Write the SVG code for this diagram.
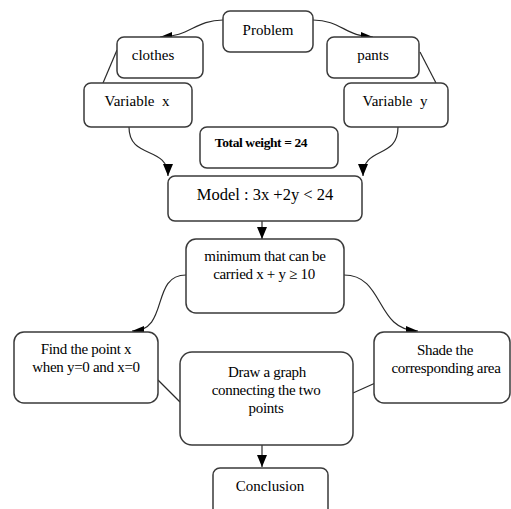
<svg xmlns="http://www.w3.org/2000/svg" width="511" height="509" viewBox="0 0 511 509" font-family="'Liberation Serif', 'DejaVu Serif', serif">
<defs>
<style>
.box{fill:#fff;stroke:#3a3a3a;stroke-width:1.5}
text{font-family:'Liberation Serif','DejaVu Serif',serif;font-size:15px;fill:#000;text-anchor:middle}
.s{font-size:15px;letter-spacing:-0.3px}
.c{fill:none;stroke:#2a2a2a;stroke-width:1.2}
</style>
<marker id="ah" viewBox="0 0 12 10" refX="12" refY="5" markerWidth="12" markerHeight="10" markerUnits="userSpaceOnUse" orient="auto">
<path d="M0,0 L12,5 L0,10 z" fill="#000"/>
</marker>
</defs>
<rect width="511" height="509" fill="#fff"/>
<g id="connectors">
<path class="c" d="M223,20 C195,20 190,37 160,37" marker-end="url(#ah)"/>
<path class="c" d="M313,20 C341,20 346,37 373,37" marker-end="url(#ah)"/>
<path class="c" d="M117,50 L103,83"/>
<path class="c" d="M420,52 L436,83"/>
<path class="c" d="M129,127 C129,160 168,145 168,176" marker-end="url(#ah)"/>
<path class="c" d="M398,127 C398,160 363,145 363,176" marker-end="url(#ah)"/>
<path class="c" d="M262,221 L262,239" marker-end="url(#ah)"/>
<path class="c" d="M186,275 C150,275 170,331 132,331" marker-end="url(#ah)"/>
<path class="c" d="M344,275 C385,275 375,331 418,331" marker-end="url(#ah)"/>
<path class="c" d="M158,380 L180,402"/>
<path class="c" d="M353,393 L382,380"/>
<path class="c" d="M262,445 L262,467" marker-end="url(#ah)"/>
</g>
<g id="problem"><rect class="box" x="223" y="11" width="90" height="41" rx="7"/><text x="268" y="35">Problem</text></g>
<g id="clothes"><rect class="box" x="117" y="37" width="86" height="41" rx="7"/><text x="153" y="60">clothes</text></g>
<g id="pants"><rect class="box" x="327" y="37" width="92" height="41" rx="7"/><text x="373" y="60">pants</text></g>
<g id="variable-x"><rect class="box" x="84" y="83" width="108" height="44" rx="7"/><text x="137" y="106" xml:space="preserve">Variable  x</text></g>
<g id="variable-y"><rect class="box" x="344" y="83" width="104" height="44" rx="7"/><text x="395" y="106" xml:space="preserve">Variable  y</text></g>
<g id="total-weight"><rect class="box" x="200" y="127" width="138" height="41" rx="7"/><text x="261" y="147" style="font-size:13.5px;font-weight:bold;letter-spacing:-0.4px">Total weight = 24</text></g>
<g id="model"><rect class="box" x="168" y="176" width="194" height="45" rx="7"/><text x="265" y="200" style="font-size:16.5px">Model : 3x +2y &lt; 24</text></g>
<g id="minimum"><rect class="box" x="186" y="239" width="158" height="74" rx="10"/><text class="s" x="265" y="261">minimum that can be</text><text class="s" x="264" y="279">carried x + y ≥ 10</text></g>
<g id="find-point"><rect class="box" x="14" y="332" width="144" height="71" rx="10"/><text class="s" x="86" y="354">Find the point x</text><text class="s" x="86" y="372">when y=0 and x=0</text></g>
<g id="draw-graph"><rect class="box" x="180" y="352" width="173" height="93" rx="12"/><text class="s" x="267" y="377">Draw a graph</text><text class="s" x="266" y="395">connecting the two</text><text class="s" x="266" y="413">points</text></g>
<g id="shade"><rect class="box" x="374" y="332" width="136" height="71" rx="10"/><text class="s" x="445" y="355">Shade the</text><text class="s" x="446" y="373">corresponding area</text></g>
<g id="conclusion"><rect class="box" x="213" y="468" width="115" height="50" rx="7"/><text x="270" y="491">Conclusion</text></g>
</svg>
